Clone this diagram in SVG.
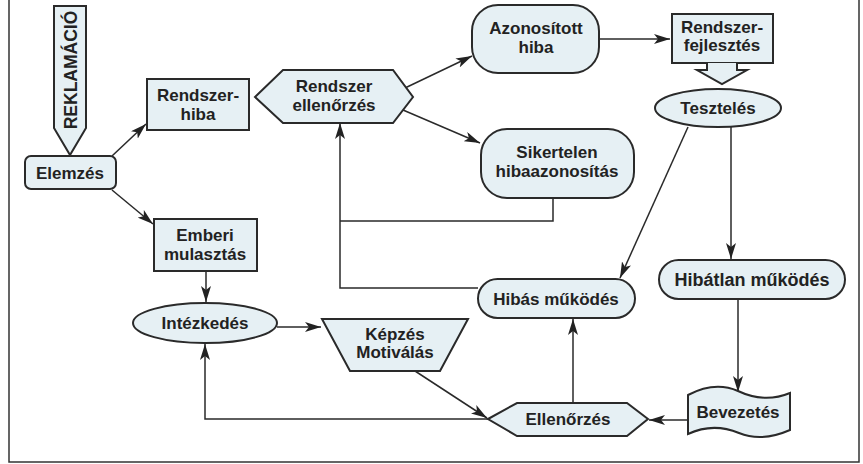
<svg xmlns="http://www.w3.org/2000/svg" width="863" height="464" viewBox="0 0 863 464">
<defs>
<marker id="ah" viewBox="0 0 16 10" refX="16" refY="5" markerWidth="16" markerHeight="10" markerUnits="userSpaceOnUse" orient="auto">
<path d="M0,0 L16,5 L0,10 L4,5 Z" fill="#222"/>
</marker>
<style>
.n{fill:#e6f0f4;stroke:#2a2a2a;stroke-width:2}
.t{font-family:"Liberation Sans",Arial,sans-serif;font-weight:bold;font-size:17px;fill:#222;text-anchor:middle}
.c{fill:none;stroke:#2a2a2a;stroke-width:1.5}
.a{marker-end:url(#ah)}
</style>
</defs>
<rect width="863" height="464" fill="#ffffff"/>
<path d="M9,0 V462 H859 V0" fill="none" stroke="#333" stroke-width="1.5"/>

<g id="connectors">
<line class="c a" x1="112" y1="156" x2="146" y2="124"/>
<line class="c a" x1="112" y1="190" x2="153" y2="224"/>
<line class="c a" x1="206" y1="271" x2="206" y2="302"/>
<line class="c a" x1="277" y1="327" x2="321" y2="327"/>
<line class="c a" x1="405" y1="88" x2="472" y2="56"/>
<line class="c a" x1="403" y1="110" x2="480" y2="143"/>
<line class="c a" x1="599" y1="39" x2="670" y2="39"/>
<line class="c a" x1="688" y1="127" x2="620" y2="278"/>
<line class="c a" x1="731" y1="127" x2="731" y2="259"/>
<line class="c a" x1="738" y1="299" x2="738" y2="392"/>
<line class="c a" x1="688" y1="420" x2="649" y2="420"/>
<line class="c a" x1="573" y1="403" x2="573" y2="319"/>
<line class="c a" x1="415" y1="371" x2="487" y2="418"/>
<polyline class="c a" points="488,419 205,419 205,344"/>
<polyline class="c a" points="478,288 340,288 340,123"/>
<polyline class="c" points="553,198 553,221 340,221"/>
</g>

<g id="reklamacio">
<path class="n" d="M54,6 H86 V128 L70,155 L54,128 Z"/>
<text class="t" style="font-size:17.5px" transform="translate(77,70) rotate(-90)">REKLAMÁCIÓ</text>
</g>
<g id="elemzes">
<rect class="n" x="25" y="156" width="91" height="33" rx="6"/>
<text class="t" x="70" y="179">Elemzés</text>
</g>
<g id="rendszerhiba">
<rect class="n" x="147" y="79" width="102" height="51"/>
<text class="t" x="198" y="101">Rendszer-</text>
<text class="t" x="198" y="120">hiba</text>
</g>
<g id="emberi">
<rect class="n" x="154" y="219" width="103" height="52"/>
<text class="t" x="205" y="241">Emberi</text>
<text class="t" x="205" y="260">mulasztás</text>
</g>
<g id="intezkedes">
<ellipse class="n" cx="205" cy="323" rx="72" ry="20"/>
<text class="t" x="205" y="329">Intézkedés</text>
</g>
<g id="rendszerellenorzes">
<path class="n" d="M255,97 L283,70 H393 L413,97 L393,123 H283 Z"/>
<text class="t" x="334" y="92">Rendszer</text>
<text class="t" x="334" y="111">ellenőrzés</text>
</g>
<g id="azonositott">
<rect class="n" x="472" y="5" width="127" height="68" rx="26"/>
<text class="t" x="536" y="34">Azonosított</text>
<text class="t" x="536" y="53">hiba</text>
</g>
<g id="sikertelen">
<rect class="n" x="481" y="129" width="153" height="69" rx="26"/>
<text class="t" x="557" y="158">Sikertelen</text>
<text class="t" x="557" y="177">hibaazonosítás</text>
</g>
<g id="rendszerfejlesztes">
<rect class="n" x="672" y="14" width="101" height="49"/>
<path class="n" d="M707,63 V70 H697 L722,84 L747,70 H737 V63"/>
<text class="t" x="722" y="33">Rendszer-</text>
<text class="t" x="722" y="51">fejlesztés</text>
</g>
<g id="teszteles">
<ellipse class="n" cx="718" cy="108" rx="63" ry="19"/>
<text class="t" x="718" y="114">Tesztelés</text>
</g>
<g id="hibasmukodes">
<rect class="n" x="478" y="279" width="157" height="39" rx="19.5"/>
<text class="t" x="556" y="305">Hibás működés</text>
</g>
<g id="hibatlanmukodes">
<rect class="n" x="659" y="260" width="186" height="39" rx="19.5"/>
<text class="t" style="font-size:18px" x="752" y="286">Hibátlan működés</text>
</g>
<g id="kepzes">
<path class="n" d="M322,319 H468 L440,371 H350 Z"/>
<text class="t" x="395" y="340">Képzés</text>
<text class="t" x="395" y="358">Motiválás</text>
</g>
<g id="ellenorzes">
<path class="n" d="M488,419 L517,403 H627 L648,419 L627,436 H517 Z"/>
<text class="t" x="568" y="425">Ellenőrzés</text>
</g>
<g id="bevezetes">
<path class="n" d="M688,395 C705,386 722,384 738,391 C755,399 773,400 790,393 L790,430 C774,437 756,440 739,433 C722,426 705,426 688,434 Z"/>
<text class="t" x="738" y="418">Bevezetés</text>
</g>
</svg>
